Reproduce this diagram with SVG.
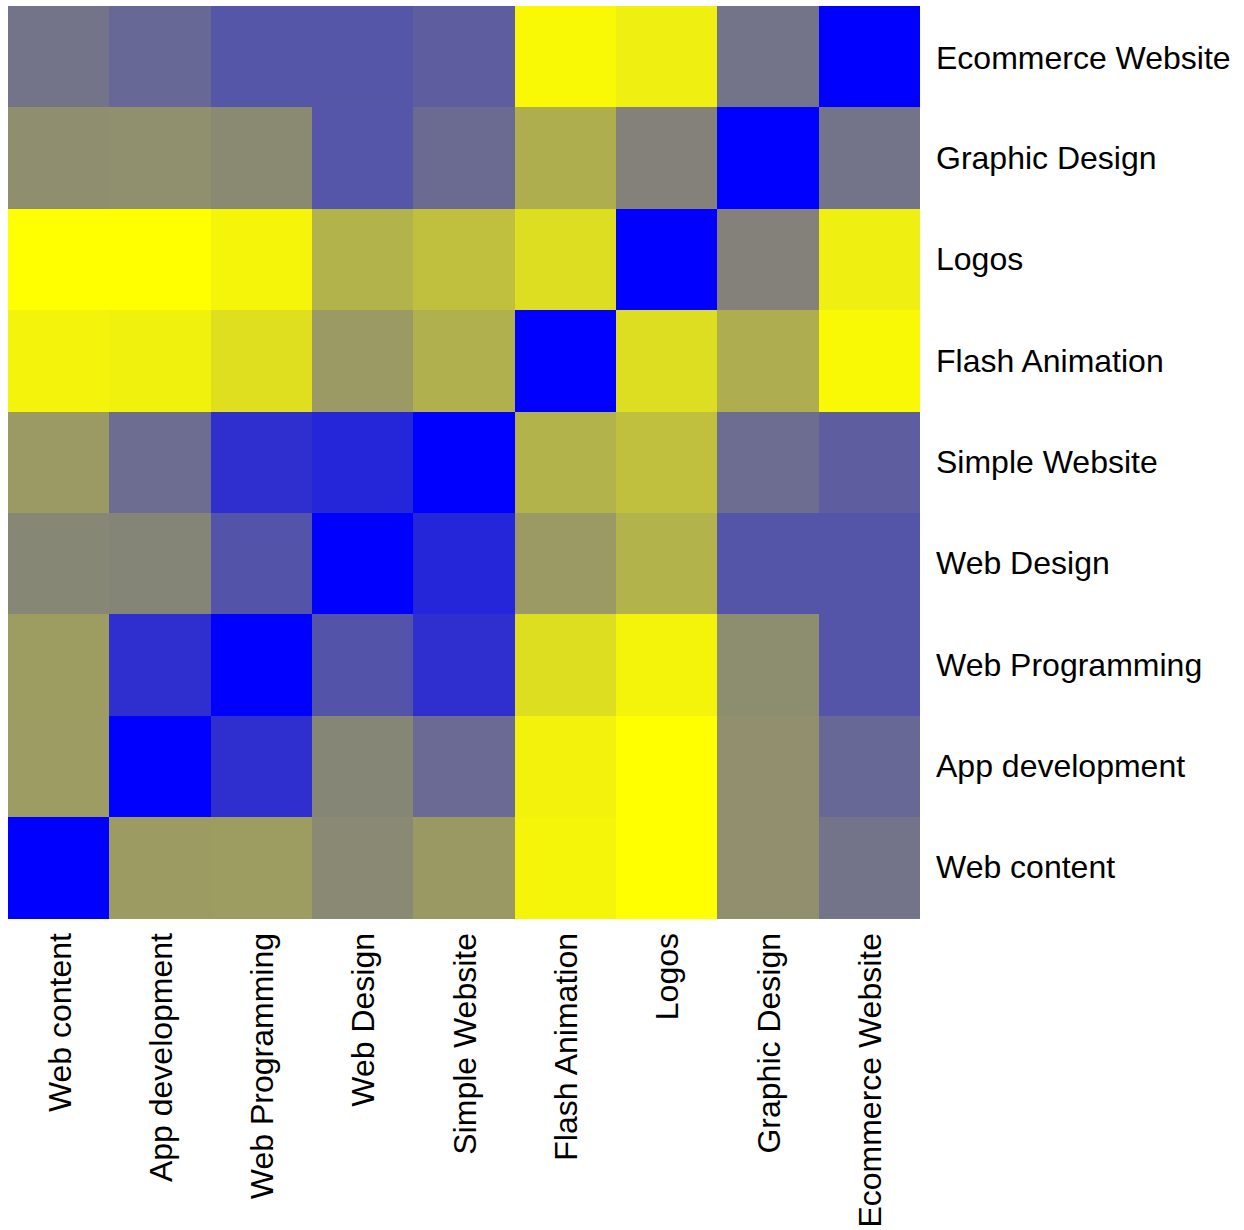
<svg xmlns="http://www.w3.org/2000/svg" width="1244" height="1230" viewBox="0 0 1244 1230">
<style>
.lbl{font-family:"Liberation Sans",Arial,sans-serif;font-size:32px;fill:#000}
.col{text-anchor:end}
</style>
<rect width="1244" height="1230" fill="#fff"/>
<g id="heatmap" shape-rendering="crispEdges">
<g id="row-ecommerce">
<rect x="8" y="6" width="101.4" height="101.4" fill="#737389"/>
<rect x="109.3" y="6" width="101.4" height="101.4" fill="#686896"/>
<rect x="210.7" y="6" width="101.4" height="101.4" fill="#5656a9"/>
<rect x="312" y="6" width="101.4" height="101.4" fill="#5656a9"/>
<rect x="413.3" y="6" width="101.4" height="101.4" fill="#5d5d9f"/>
<rect x="514.7" y="6" width="101.4" height="101.4" fill="#f9f906"/>
<rect x="616" y="6" width="101.4" height="101.4" fill="#efef12"/>
<rect x="717.3" y="6" width="101.4" height="101.4" fill="#737389"/>
<rect x="818.7" y="6" width="101.3" height="101.4" fill="#0000ff"/>
</g>
<g id="row-graphic">
<rect x="8" y="107.4" width="101.4" height="101.4" fill="#8f8e6e"/>
<rect x="109.3" y="107.4" width="101.4" height="101.4" fill="#908f6e"/>
<rect x="210.7" y="107.4" width="101.4" height="101.4" fill="#8a8971"/>
<rect x="312" y="107.4" width="101.4" height="101.4" fill="#5556a9"/>
<rect x="413.3" y="107.4" width="101.4" height="101.4" fill="#6b6b92"/>
<rect x="514.7" y="107.4" width="101.4" height="101.4" fill="#afae4f"/>
<rect x="616" y="107.4" width="101.4" height="101.4" fill="#838179"/>
<rect x="717.3" y="107.4" width="101.4" height="101.4" fill="#0000ff"/>
<rect x="818.7" y="107.4" width="101.3" height="101.4" fill="#737389"/>
</g>
<g id="row-logos">
<rect x="8" y="208.8" width="101.4" height="101.4" fill="#ffff00"/>
<rect x="109.3" y="208.8" width="101.4" height="101.4" fill="#ffff00"/>
<rect x="210.7" y="208.8" width="101.4" height="101.4" fill="#f5f50a"/>
<rect x="312" y="208.8" width="101.4" height="101.4" fill="#b3b34c"/>
<rect x="413.3" y="208.8" width="101.4" height="101.4" fill="#c0bf3e"/>
<rect x="514.7" y="208.8" width="101.4" height="101.4" fill="#dddd22"/>
<rect x="616" y="208.8" width="101.4" height="101.4" fill="#0000ff"/>
<rect x="717.3" y="208.8" width="101.4" height="101.4" fill="#838179"/>
<rect x="818.7" y="208.8" width="101.3" height="101.4" fill="#efef12"/>
</g>
<g id="row-flash">
<rect x="8" y="310.2" width="101.4" height="101.4" fill="#f3f30c"/>
<rect x="109.3" y="310.2" width="101.4" height="101.4" fill="#f1f10e"/>
<rect x="210.7" y="310.2" width="101.4" height="101.4" fill="#dfdf20"/>
<rect x="312" y="310.2" width="101.4" height="101.4" fill="#9b9a64"/>
<rect x="413.3" y="310.2" width="101.4" height="101.4" fill="#b0b04f"/>
<rect x="514.7" y="310.2" width="101.4" height="101.4" fill="#0000ff"/>
<rect x="616" y="310.2" width="101.4" height="101.4" fill="#dddd22"/>
<rect x="717.3" y="310.2" width="101.4" height="101.4" fill="#aeae50"/>
<rect x="818.7" y="310.2" width="101.3" height="101.4" fill="#f9f906"/>
</g>
<g id="row-simple">
<rect x="8" y="411.6" width="101.4" height="101.4" fill="#9b9a64"/>
<rect x="109.3" y="411.6" width="101.4" height="101.4" fill="#6d6d91"/>
<rect x="210.7" y="411.6" width="101.4" height="101.4" fill="#2f2fcf"/>
<rect x="312" y="411.6" width="101.4" height="101.4" fill="#2525d9"/>
<rect x="413.3" y="411.6" width="101.4" height="101.4" fill="#0000ff"/>
<rect x="514.7" y="411.6" width="101.4" height="101.4" fill="#b3b34c"/>
<rect x="616" y="411.6" width="101.4" height="101.4" fill="#c0c03e"/>
<rect x="717.3" y="411.6" width="101.4" height="101.4" fill="#6d6d91"/>
<rect x="818.7" y="411.6" width="101.3" height="101.4" fill="#5d5d9f"/>
</g>
<g id="row-webdesign">
<rect x="8" y="513" width="101.4" height="101.4" fill="#878775"/>
<rect x="109.3" y="513" width="101.4" height="101.4" fill="#848477"/>
<rect x="210.7" y="513" width="101.4" height="101.4" fill="#5353a9"/>
<rect x="312" y="513" width="101.4" height="101.4" fill="#0000ff"/>
<rect x="413.3" y="513" width="101.4" height="101.4" fill="#2525d9"/>
<rect x="514.7" y="513" width="101.4" height="101.4" fill="#9b9a64"/>
<rect x="616" y="513" width="101.4" height="101.4" fill="#b3b34c"/>
<rect x="717.3" y="513" width="101.4" height="101.4" fill="#5454a9"/>
<rect x="818.7" y="513" width="101.3" height="101.4" fill="#5454a9"/>
</g>
<g id="row-webprog">
<rect x="8" y="614.4" width="101.4" height="101.4" fill="#9e9d61"/>
<rect x="109.3" y="614.4" width="101.4" height="101.4" fill="#2f2fcf"/>
<rect x="210.7" y="614.4" width="101.4" height="101.4" fill="#0000ff"/>
<rect x="312" y="614.4" width="101.4" height="101.4" fill="#5353a9"/>
<rect x="413.3" y="614.4" width="101.4" height="101.4" fill="#2f2fcf"/>
<rect x="514.7" y="614.4" width="101.4" height="101.4" fill="#dede20"/>
<rect x="616" y="614.4" width="101.4" height="101.4" fill="#f4f40a"/>
<rect x="717.3" y="614.4" width="101.4" height="101.4" fill="#8d8d70"/>
<rect x="818.7" y="614.4" width="101.3" height="101.4" fill="#5454a9"/>
</g>
<g id="row-appdev">
<rect x="8" y="715.8" width="101.4" height="101.4" fill="#9d9c62"/>
<rect x="109.3" y="715.8" width="101.4" height="101.4" fill="#0000ff"/>
<rect x="210.7" y="715.8" width="101.4" height="101.4" fill="#2f2fcf"/>
<rect x="312" y="715.8" width="101.4" height="101.4" fill="#868676"/>
<rect x="413.3" y="715.8" width="101.4" height="101.4" fill="#6a6a94"/>
<rect x="514.7" y="715.8" width="101.4" height="101.4" fill="#f2f20d"/>
<rect x="616" y="715.8" width="101.4" height="101.4" fill="#ffff00"/>
<rect x="717.3" y="715.8" width="101.4" height="101.4" fill="#918f6d"/>
<rect x="818.7" y="715.8" width="101.3" height="101.4" fill="#686896"/>
</g>
<g id="row-webcontent">
<rect x="8" y="817.2" width="101.4" height="101.4" fill="#0000ff"/>
<rect x="109.3" y="817.2" width="101.4" height="101.4" fill="#9c9b62"/>
<rect x="210.7" y="817.2" width="101.4" height="101.4" fill="#9e9d61"/>
<rect x="312" y="817.2" width="101.4" height="101.4" fill="#8a8973"/>
<rect x="413.3" y="817.2" width="101.4" height="101.4" fill="#9a9964"/>
<rect x="514.7" y="817.2" width="101.4" height="101.4" fill="#f5f50a"/>
<rect x="616" y="817.2" width="101.4" height="101.4" fill="#ffff00"/>
<rect x="717.3" y="817.2" width="101.4" height="101.4" fill="#918f6d"/>
<rect x="818.7" y="817.2" width="101.3" height="101.4" fill="#737389"/>
</g>
</g>
<g id="row-labels">
<text class="lbl" x="936" y="69">Ecommerce Website</text>
<text class="lbl" x="936" y="169">Graphic Design</text>
<text class="lbl" x="936" y="270">Logos</text>
<text class="lbl" x="936" y="372">Flash Animation</text>
<text class="lbl" x="936" y="473">Simple Website</text>
<text class="lbl" x="936" y="574">Web Design</text>
<text class="lbl" x="936" y="676">Web Programming</text>
<text class="lbl" x="936" y="777">App development</text>
<text class="lbl" x="936" y="878">Web content</text>
</g>
<g id="col-labels">
<text class="lbl col" transform="translate(71,933) rotate(-90)">Web content</text>
<text class="lbl col" transform="translate(172,933) rotate(-90)">App development</text>
<text class="lbl col" transform="translate(273,933) rotate(-90)">Web Programming</text>
<text class="lbl col" transform="translate(374,933) rotate(-90)">Web Design</text>
<text class="lbl col" transform="translate(476,933) rotate(-90)">Simple Website</text>
<text class="lbl col" transform="translate(577,933) rotate(-90)">Flash Animation</text>
<text class="lbl col" transform="translate(678,933) rotate(-90)">Logos</text>
<text class="lbl col" transform="translate(780,933) rotate(-90)">Graphic Design</text>
<text class="lbl col" transform="translate(881,933) rotate(-90)">Ecommerce Website</text>
</g>
</svg>
